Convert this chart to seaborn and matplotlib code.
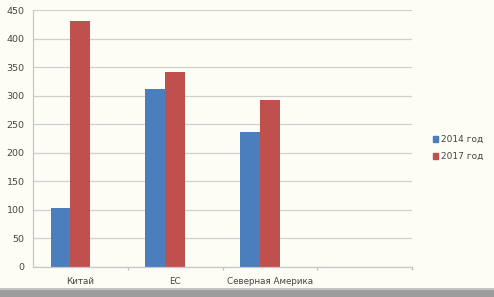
import pandas as pd
import numpy as np
import matplotlib
matplotlib.use('Agg')
import matplotlib.pyplot as plt
import seaborn as sns
from matplotlib.patches import Patch, Rectangle

# data
regions = ['Китай', 'ЕС', 'Северная Америка', ' ']
val_2014 = [103, 311, 237, np.nan]
val_2017 = [430, 342, 292, np.nan]
series = ['2014 год', '2017 год']
yticks = [0, 50, 100, 150, 200, 250, 300, 350, 400, 450]

blue = '#4a7ebd'
red = '#c0504d'
bg = '#fdfdf6'

# long table; a third empty series keeps the excel-like offset of the bars
rows = []
for i, r in enumerate(regions):
    rows.append({'region': r, 'series': series[0], 'value': val_2014[i]})
    rows.append({'region': r, 'series': series[1], 'value': val_2017[i]})
    rows.append({'region': r, 'series': '_empty', 'value': np.nan})
df = pd.DataFrame(rows)

sns.set_style('white')
plt.rcParams['font.family'] = ['DejaVu Sans']

fig = plt.figure(figsize=(4.94, 2.97), dpi=100, facecolor=bg)
ax = fig.add_axes([33 / 494, 30 / 297, (412 - 33) / 494, (267 - 10) / 297])
ax.set_facecolor(bg)

sns.barplot(data=df, x='region', y='value', hue='series',
            order=regions, hue_order=series + ['_empty'],
            palette={series[0]: blue, series[1]: red, '_empty': bg},
            width=0.63, gap=0, saturation=1, legend=False, ax=ax,
            linewidth=0)

ax.set_ylim(0, 450)
ax.set_xlim(-0.5, 3.5)
ax.set_yticks(yticks)
ax.yaxis.grid(True, color='#d0d0d0', linewidth=0.9)
ax.set_axisbelow(True)
ax.set_xlabel('')
ax.set_ylabel('')

ax.set_xticks(range(len(regions)))
ax.set_xticklabels(regions)
ax.set_xticks(np.arange(0.5, 4, 1), minor=True)
ax.tick_params(axis='x', which='major', bottom=False, length=0, pad=7, labelsize=6.3, labelcolor='#444444')
ax.tick_params(axis='x', which='minor', bottom=True, length=2.5, color='#bbbbbb', width=0.9)
ax.tick_params(axis='y', length=0, pad=6, labelsize=6.8, labelcolor='#444444')

for side in ['top', 'right']:
    ax.spines[side].set_visible(False)
for side in ['left', 'bottom']:
    ax.spines[side].set_color('#c8c8c8')
    ax.spines[side].set_linewidth(0.9)

handles = [Patch(color=blue, label=series[0]), Patch(color=red, label=series[1])]
fig.legend(handles=handles, loc='upper left', bbox_to_anchor=(425 / 494, 1 - 127 / 297),
           frameon=False, fontsize=6.5, handlelength=0.55, handleheight=0.55,
           handletextpad=0.35, labelspacing=0.9, labelcolor='#444444')

# grey strip along the bottom edge of the screenshot
fig.patches.append(Rectangle((0, 0), 1, 8 / 297, transform=fig.transFigure,
                             facecolor='#9c9c9c', edgecolor='none'))
fig.patches.append(Rectangle((0, 7 / 297), 1, 2 / 297, transform=fig.transFigure,
                             facecolor='#c4c4c4', edgecolor='none'))

fig.savefig('out.png', dpi=100, facecolor=bg)
